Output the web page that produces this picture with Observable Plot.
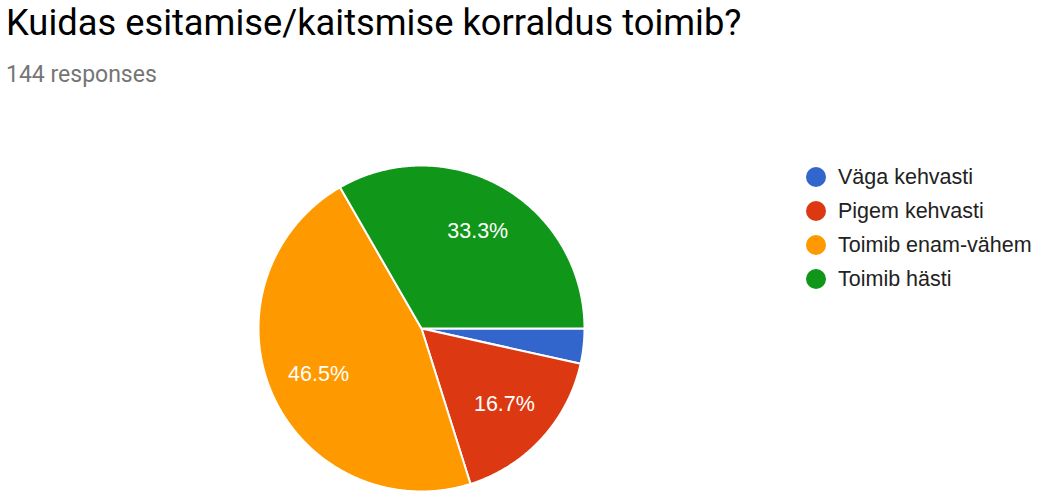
<!DOCTYPE html>
<html><head><meta charset="utf-8">
<script src="https://cdn.jsdelivr.net/npm/d3@7"></script>
<script src="https://cdn.jsdelivr.net/npm/@observablehq/plot@0.6"></script>
<style>
body{margin:0;background:#fff;width:1043px;height:500px;overflow:hidden;position:relative}
#title{position:absolute;left:6px;top:5px;font-family:Roboto,sans-serif;font-size:36.3px;line-height:1;color:#000;white-space:nowrap}
#subtitle{position:absolute;left:6px;top:63px;font-family:Roboto,sans-serif;font-size:23px;line-height:1;color:#757575;white-space:nowrap}
#chart{position:absolute;left:0;top:100px}
.lg{position:absolute;left:806px;height:34px;display:flex;align-items:center;font-family:Arial,"Liberation Sans",sans-serif;font-size:21.5px;color:#222;white-space:nowrap}
.lg span.sw{display:inline-block;width:20px;height:20px;border-radius:50%;margin-right:12px}
</style></head><body>
<div id="title">Kuidas esitamise/kaitsmise korraldus toimib?</div>
<div id="subtitle">144 responses</div>
<div id="chart"></div>
<div id="legend"></div>
<script>
const categories = ["Väga kehvasti", "Pigem kehvasti", "Toimib enam-vähem", "Toimib hästi"];
const counts = [5, 24, 67, 48];
const colors = ["#3366cc", "#dc3912", "#ff9900", "#109618"];

const total = d3.sum(counts);
const arcs = d3.pie().sort(null).startAngle(0).endAngle(2 * Math.PI)(counts);

// slice outlines (angle measured clockwise from 3 o'clock, y down)
const polys = [];
arcs.forEach((a, i) => {
  const label = categories[i];
  polys.push({label, x: 0, y: 0});
  const n = Math.max(2, Math.ceil((a.endAngle - a.startAngle) / (Math.PI / 360)));
  for (let k = 0; k <= n; k++) {
    const t = a.startAngle + (a.endAngle - a.startAngle) * k / n;
    polys.push({label, x: Math.cos(t), y: Math.sin(t)});
  }
});

const labels = arcs
  .map((a, i) => {
    const m = (a.startAngle + a.endAngle) / 2;
    return {label: d3.format(".1%")(counts[i] / total), x: 0.69 * Math.cos(m), y: 0.69 * Math.sin(m), f: counts[i] / total};
  })
  .filter(d => d.f >= 0.05);

const chart = Plot.plot({
  width: 1043,
  height: 400,
  marginTop: 65,
  marginBottom: 9,
  marginLeft: 258,
  marginRight: 459,
  x: {domain: [-1, 1], axis: null},
  y: {domain: [-1, 1], reverse: true, axis: null},
  color: {domain: categories, range: colors},
  style: {background: "transparent"},
  marks: [
    Plot.line(polys, {x: "x", y: "y", z: "label", fill: "label", stroke: "white", strokeWidth: 2, curve: "linear-closed"}),
    Plot.text(labels, {x: "x", y: "y", text: "label", fill: "white", fontSize: 21.5, fontFamily: "Arial, 'Liberation Sans', sans-serif"})
  ]
});
document.getElementById("chart").appendChild(chart);

const lg = document.getElementById("legend");
const legendCenters = [177, 211, 245, 279];
categories.forEach((c, i) => {
  const row = document.createElement("div");
  row.className = "lg";
  row.style.top = (legendCenters[i] - 17) + "px";
  row.innerHTML = `<span class="sw" style="background:${colors[i]}"></span><span>${c}</span>`;
  lg.appendChild(row);
});
</script>
</body></html>
